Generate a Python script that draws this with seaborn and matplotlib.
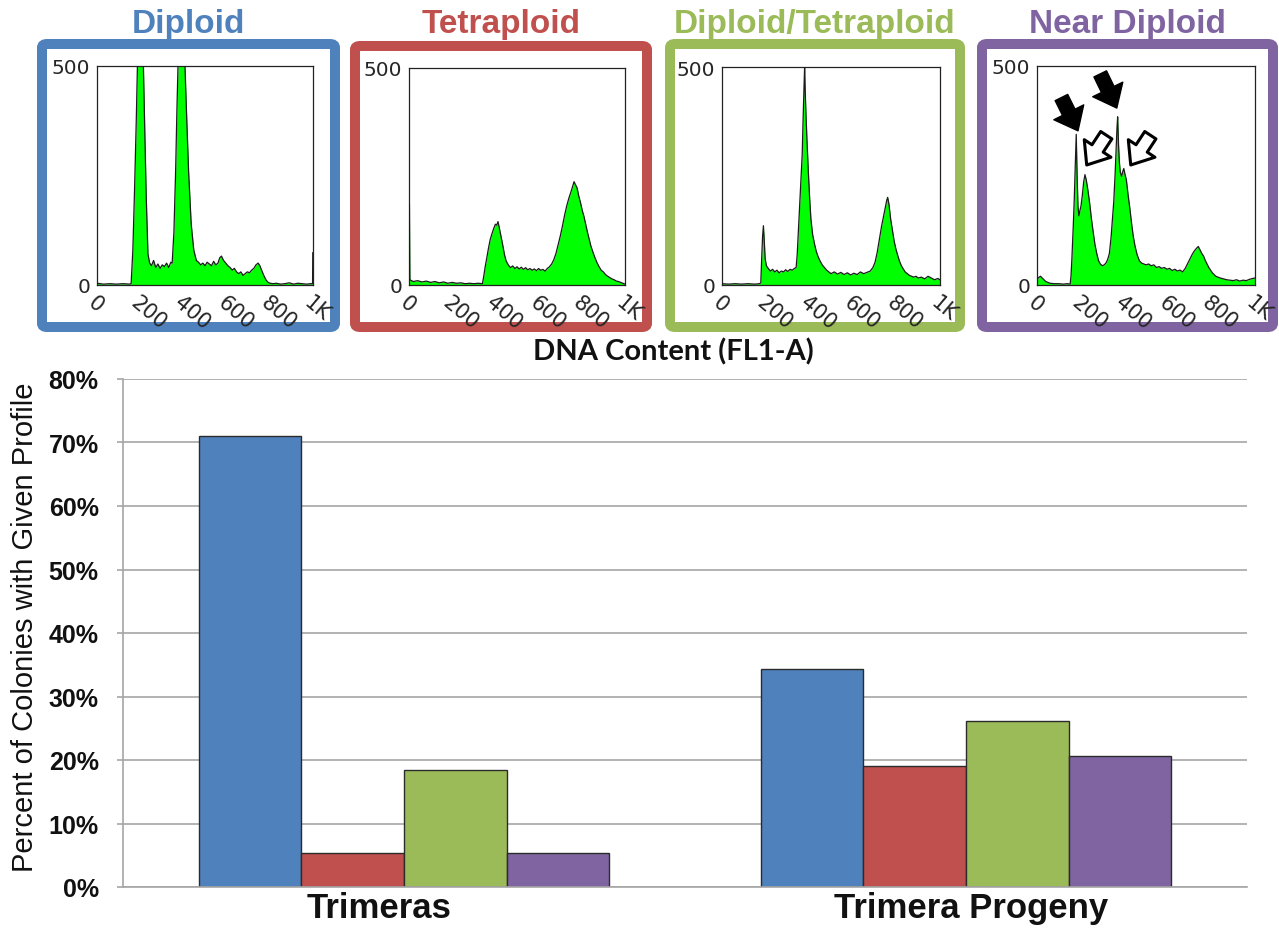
"""
Ploidy profiles of colonies: four example DNA-content histograms on top,
share of colonies per profile for Trimeras and Trimera Progeny below.
"""

import numpy as np
import pandas as pd
import matplotlib.pyplot as plt
from matplotlib.patches import FancyBboxPatch
from matplotlib.ticker import MultipleLocator, FixedLocator
import seaborn as sns


OUTPUT_FILE = "out.png"
W, H = 1279, 929

# ---- bar chart data ----
GROUPS = ["Trimeras", "Trimera Progeny"]
PROFILES = ["Diploid", "Tetraploid", "Diploid/Tetraploid", "Near Diploid"]
TRIMERAS_PCT = [71.1, 5.3, 18.4, 5.3]
PROGENY_PCT = [34.3, 19.0, 26.2, 20.7]
Y_TICKS = [0, 10, 20, 30, 40, 50, 60, 70, 80]

PROFILE_COLORS = ["#4F81BD", "#C0504D", "#9BBB59", "#8064A2"]

# ---- example histograms: (DNA content channel, event count) ----
HIST_X_TICKS = [0, 200, 400, 600, 800, 1000]
HIST_X_LABELS = ["0", "200", "400", "600", "800", "1K"]

DIPLOID_TRACE = [
    (0, 4), (30, 2), (60, 3), (90, 2), (120, 3), (150, 2), (158, 3),
    (166, 80), (174, 220), (182, 380), (188, 520), (214, 520), (220, 380),
    (228, 200), (236, 70), (244, 50), (252, 44), (262, 56), (272, 40),
    (282, 48), (292, 38), (302, 46), (312, 42), (322, 50), (332, 40),
    (342, 52), (348, 50), (356, 120), (364, 260), (370, 400), (376, 520),
    (406, 520), (414, 400), (424, 260), (436, 140), (448, 80), (460, 56),
    (470, 52), (480, 46), (490, 50), (500, 44), (510, 52), (520, 48),
    (530, 44), (540, 54), (550, 46), (560, 50), (568, 62), (576, 66),
    (586, 56), (596, 50), (606, 44), (616, 40), (626, 34), (636, 38),
    (646, 30), (656, 26), (666, 30), (676, 22), (686, 26), (696, 30),
    (706, 28), (716, 34), (726, 38), (736, 46), (746, 50), (754, 44),
    (762, 34), (772, 22), (782, 12), (792, 6), (802, 4), (815, 3),
    (830, 4), (850, 2), (870, 3), (890, 5), (910, 2), (930, 4), (950, 3),
    (970, 2), (990, 3), (998, 3), (999, 74), (1000, 74),
]

TETRAPLOID_TRACE = [
    (0, 185), (2, 185), (4, 12), (20, 8), (40, 10), (60, 7), (80, 9),
    (100, 6), (120, 8), (140, 5), (160, 7), (180, 4), (200, 6), (220, 4),
    (240, 5), (260, 3), (280, 4), (300, 3), (320, 4), (340, 3), (346, 20),
    (352, 40), (360, 62), (368, 85), (376, 105), (384, 118), (392, 130),
    (400, 140), (406, 138), (412, 146), (418, 132), (426, 112), (434, 92),
    (442, 70), (450, 55), (460, 46), (470, 40), (480, 44), (490, 38),
    (500, 42), (510, 37), (520, 41), (530, 36), (540, 40), (550, 35),
    (560, 38), (570, 34), (580, 37), (590, 33), (600, 38), (610, 34),
    (620, 36), (630, 32), (640, 38), (650, 42), (660, 48), (670, 58),
    (680, 72), (690, 92), (700, 112), (710, 135), (720, 160), (730, 182),
    (740, 200), (750, 215), (758, 228), (764, 238), (770, 232), (778, 224),
    (786, 205), (794, 190), (802, 172), (810, 158), (818, 140), (826, 122),
    (834, 106), (842, 90), (850, 78), (860, 64), (870, 52), (880, 42),
    (890, 34), (900, 30), (910, 24), (920, 20), (930, 17), (940, 14),
    (950, 12), (960, 9), (970, 8), (980, 6), (990, 4), (1000, 2),
]

MIXED_TRACE = [
    (0, 3), (30, 2), (60, 3), (90, 2), (120, 3), (150, 2), (172, 3),
    (178, 5), (182, 60), (186, 110), (190, 136), (194, 100), (198, 60),
    (204, 44), (212, 38), (222, 32), (232, 36), (242, 30), (252, 34),
    (262, 28), (272, 32), (282, 30), (292, 35), (302, 31), (312, 36),
    (322, 34), (332, 38), (340, 40), (345, 70), (350, 120), (356, 180),
    (362, 240), (368, 300), (372, 380), (376, 450), (379, 500), (382, 440),
    (386, 380), (390, 330), (396, 260), (402, 200), (408, 150), (416, 115),
    (424, 95), (432, 78), (440, 66), (450, 55), (460, 46), (470, 40),
    (480, 34), (490, 30), (500, 26), (515, 30), (530, 25), (545, 29),
    (560, 24), (575, 28), (590, 23), (605, 27), (620, 24), (635, 30),
    (650, 26), (665, 29), (680, 32), (692, 40), (702, 52), (712, 75),
    (722, 105), (732, 135), (742, 160), (750, 180), (756, 195), (760, 201),
    (766, 185), (774, 150), (782, 125), (790, 100), (798, 82), (806, 68),
    (814, 55), (822, 45), (830, 38), (840, 30), (850, 26), (860, 22),
    (870, 20), (880, 18), (890, 20), (900, 16), (915, 18), (930, 14),
    (945, 20), (960, 16), (975, 12), (990, 15), (1000, 12),
]

NEAR_DIPLOID_TRACE = [
    (0, 10), (5, 16), (10, 18), (16, 20), (24, 16), (32, 12), (40, 8),
    (50, 6), (60, 4), (80, 3), (100, 3), (120, 2), (140, 3), (152, 2),
    (156, 20), (160, 59), (166, 130), (171, 196), (176, 280), (180, 344),
    (184, 250), (188, 180), (192, 158), (196, 168), (202, 181), (208, 205),
    (214, 235), (220, 252), (226, 240), (234, 215), (242, 185), (250, 150),
    (258, 120), (266, 92), (274, 72), (282, 56), (290, 48), (300, 44),
    (308, 46), (316, 50), (324, 58), (332, 72), (340, 110), (346, 150),
    (352, 190), (358, 250), (363, 310), (367, 360), (370, 384), (374, 320),
    (378, 280), (382, 258), (388, 248), (394, 260), (398, 266), (404, 252),
    (410, 240), (418, 205), (426, 175), (434, 140), (442, 110), (450, 88),
    (460, 68), (470, 55), (480, 50), (490, 48), (500, 46), (512, 48),
    (524, 44), (536, 46), (548, 40), (560, 42), (572, 38), (584, 40),
    (596, 36), (608, 38), (620, 33), (632, 36), (644, 32), (656, 34),
    (668, 30), (680, 38), (692, 50), (702, 60), (712, 70), (722, 78),
    (732, 84), (740, 88), (748, 80), (756, 72), (764, 66), (772, 56),
    (780, 48), (788, 40), (796, 34), (804, 28), (812, 24), (820, 20),
    (830, 18), (840, 16), (855, 14), (870, 12), (885, 11), (900, 10),
    (915, 12), (930, 9), (945, 11), (960, 10), (975, 13), (990, 15),
    (1000, 16),
]

TRACES = [DIPLOID_TRACE, TETRAPLOID_TRACE, MIXED_TRACE, NEAR_DIPLOID_TRACE]

# arrows marking the split peaks in the near-diploid example (tail -> tip)
SOLID_ARROWS = [((112, 428), (188, 352)), ((290, 482), (366, 404))]
OPEN_ARROWS = [((318, 342), (228, 274)), ((520, 342), (430, 274))]

# layout in pixels: (left, top, right, bottom)
HIST_BOXES = [(97, 67, 313, 286), (409, 69, 625, 286),
              (722, 68, 940, 286), (1037, 67, 1255, 286)]
FRAME_BOXES = [(42, 45, 335, 328), (355, 47, 647, 328),
               (670, 45, 960, 328), (982, 45, 1273, 328)]
ARROW_STYLE = "simple,head_length=0.62,head_width=1.0,tail_width=0.42"
# horizontal nudge (points) of each category label relative to its group
GROUP_LABEL_SHIFT = [-18, 4]


def px_rect(left, top, right, bottom):
    return [left / W, 1 - bottom / H, (right - left) / W, (bottom - top) / H]


def draw_histogram(ax, trace):
    xs = np.array([p[0] for p in trace], dtype=float)
    ys = np.array([p[1] for p in trace], dtype=float)
    ax.fill_between(xs, 0, ys, color="#00FF00", lw=0, zorder=2)
    ax.plot(xs, ys, color="#1a1a1a", lw=0.9, zorder=3)

    ax.set_xlim(0, 1000)
    ax.set_ylim(0, 500)
    ax.set_facecolor("white")
    for side in ax.spines:
        ax.spines[side].set_color("#222222")
        ax.spines[side].set_linewidth(0.9)

    ax.xaxis.set_major_locator(FixedLocator(HIST_X_TICKS))
    ax.xaxis.set_minor_locator(MultipleLocator(50))
    ax.set_xticklabels(HIST_X_LABELS, rotation=-40, ha="left", va="top",
                       rotation_mode="anchor", family="DejaVu Sans",
                       fontsize=15)
    ax.set_yticks([0, 500])
    ax.set_yticklabels(["0", "500"], family="DejaVu Sans", fontsize=14.5)
    ax.tick_params(axis="x", which="major", length=4, width=0.8,
                   color="#222222", pad=1, direction="out")
    ax.tick_params(axis="x", which="minor", length=2.5, width=0.7,
                   color="#222222", direction="out")
    ax.tick_params(axis="y", length=4, width=0.8, color="#222222", pad=1,
                   direction="out")
    ax.set_xlabel("")
    ax.set_ylabel("")
    ax.grid(False)


def draw_arrows(ax):
    for tail, tip in SOLID_ARROWS:
        ax.annotate("", xy=tip, xytext=tail, zorder=5,
                    arrowprops=dict(arrowstyle=ARROW_STYLE, fc="black",
                                    ec="black", lw=1.0, mutation_scale=24,
                                    shrinkA=0, shrinkB=0))
    for tail, tip in OPEN_ARROWS:
        ax.annotate("", xy=tip, xytext=tail, zorder=5,
                    arrowprops=dict(arrowstyle=ARROW_STYLE, fc="white",
                                    ec="black", lw=2.2, mutation_scale=23,
                                    shrinkA=0, shrinkB=0))


def main():
    sns.set_theme(style="white")
    plt.rcParams["font.family"] = ["Liberation Sans", "DejaVu Sans"]

    fig = plt.figure(figsize=(W / 100, H / 100), dpi=100)
    fig.patch.set_facecolor("white")

    # ---- top row: coloured frames + titles + histograms ----
    for name, color, frame in zip(PROFILES, PROFILE_COLORS, FRAME_BOXES):
        left, top, right, bottom = frame
        patch = FancyBboxPatch((left / W, 1 - bottom / H),
                               (right - left) / W, (bottom - top) / H,
                               boxstyle="round,pad=0,rounding_size=0.004",
                               transform=fig.transFigure, fill=False,
                               edgecolor=color, linewidth=7.2, zorder=0)
        fig.add_artist(patch)
        fig.text((left + right) / 2 / W, 1 - 33 / H, name, ha="center",
                 va="baseline", fontsize=24, fontweight="bold", color=color)

    for trace, box in zip(TRACES, HIST_BOXES):
        ax = fig.add_axes(px_rect(*box))
        draw_histogram(ax, trace)
        if trace is NEAR_DIPLOID_TRACE:
            draw_arrows(ax)

    fig.text(673 / W, 1 - 352 / H, "DNA Content (FL1-A)", ha="center",
             va="center", fontsize=21, fontweight="bold",
             family=["Lato", "DejaVu Sans"], color="#111111")

    # ---- bottom: grouped bar chart ----
    df = pd.DataFrame({
        "group": np.repeat(GROUPS, len(PROFILES)),
        "profile": PROFILES * len(GROUPS),
        "pct": TRIMERAS_PCT + PROGENY_PCT,
    })

    ax = fig.add_axes(px_rect(123, 380, 1247, 888))
    sns.barplot(data=df, x="group", y="pct", hue="profile", order=GROUPS,
                hue_order=PROFILES, palette=PROFILE_COLORS, saturation=1,
                width=0.73, edgecolor="#2b2b2b", linewidth=1.0, legend=False,
                ax=ax)

    ax.set_ylim(0, 80)
    ax.set_yticks(Y_TICKS)
    ax.set_yticklabels([f"{v}%" for v in Y_TICKS], fontsize=18,
                       fontweight="bold")
    ax.set_xticks(range(len(GROUPS)))
    ax.set_xticklabels([])
    ax.set_xlabel("")
    ax.set_ylabel("")

    # category labels, anchored to the category positions on the x scale
    for i, (group, shift) in enumerate(zip(GROUPS, GROUP_LABEL_SHIFT)):
        ax.annotate(group, xy=(i, 0), xycoords=ax.get_xaxis_transform(),
                    xytext=(shift, -3), textcoords="offset points",
                    ha="center", va="top", fontsize=25, fontweight="bold",
                    color="#111111", annotation_clip=False)

    ax.grid(axis="y", color="#A6A6A6", linewidth=1.2)
    ax.grid(axis="x", visible=False)
    ax.set_axisbelow(True)
    for side in ("top", "right"):
        ax.spines[side].set_visible(False)
    for side in ("left", "bottom"):
        ax.spines[side].set_color("#A6A6A6")
        ax.spines[side].set_linewidth(1.2)
    ax.tick_params(axis="y", length=4.5, width=1.2, color="#A6A6A6",
                   labelcolor="#111111", pad=13, direction="out", left=True)
    ax.tick_params(axis="x", length=0)

    fig.text(25 / W, 1 - 627 / H, "Percent of Colonies with Given Profile",
             rotation=90, ha="center", va="center", fontsize=21,
             color="#111111")

    fig.savefig(OUTPUT_FILE, dpi=100)
    print(f"Saved figure to: {OUTPUT_FILE}")


if __name__ == "__main__":
    main()
